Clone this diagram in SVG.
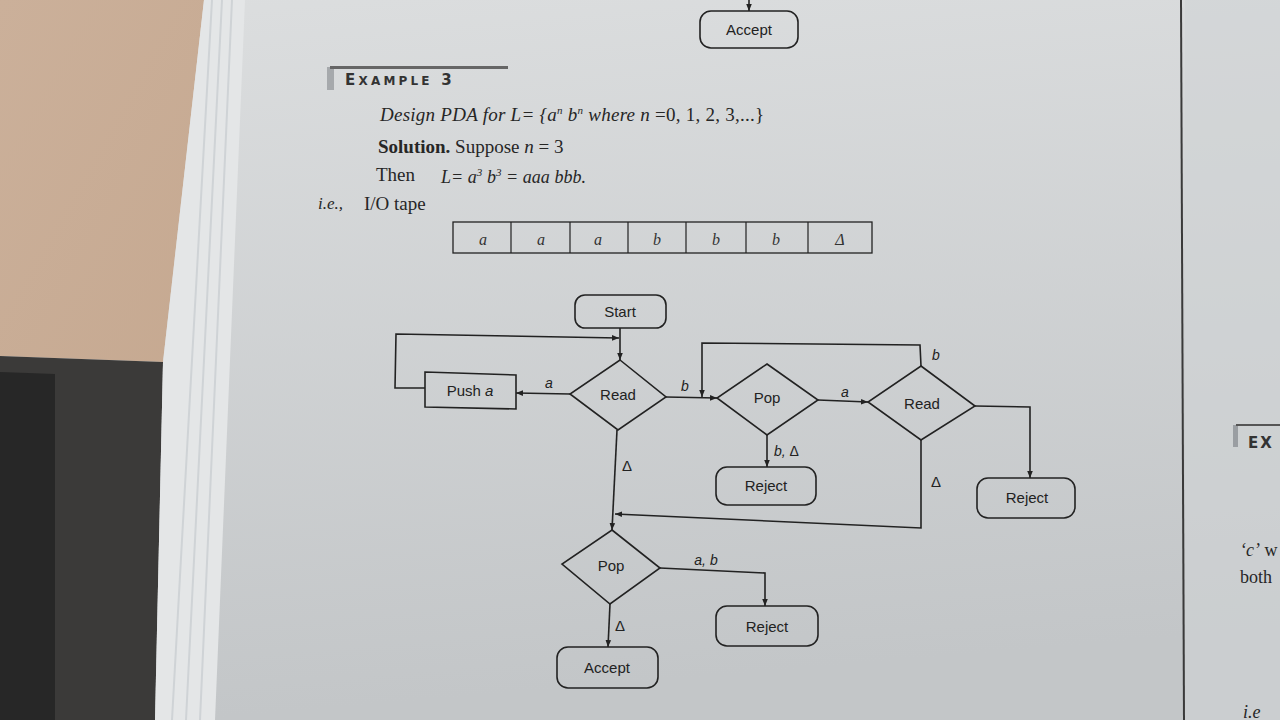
<svg xmlns="http://www.w3.org/2000/svg" width="1280" height="720" viewBox="0 0 1280 720">
<defs>
<linearGradient id="pageG" x1="0" y1="0" x2="0.15" y2="1">
<stop offset="0" stop-color="#dcdedf"/>
<stop offset="1" stop-color="#c3c6c8"/>
</linearGradient>
<linearGradient id="woodG" x1="0" y1="0" x2="1" y2="1">
<stop offset="0" stop-color="#cbb09a"/>
<stop offset="1" stop-color="#c6a991"/>
</linearGradient>
<marker id="ah" viewBox="0 0 10 10" refX="10" refY="5" markerWidth="7" markerHeight="7" orient="auto" markerUnits="userSpaceOnUse">
<path d="M0,1 L10,5 L0,9 z" fill="#222"/>
</marker>
<style>
.ln{fill:none;stroke:#222;stroke-width:1.6}
.shape{fill:none;stroke:#222;stroke-width:1.6}
.lbl{font-family:"Liberation Sans",Arial,sans-serif;font-size:15px;fill:#222;text-anchor:middle}
.el{font-family:"Liberation Sans",Arial,sans-serif;font-size:14px;fill:#222;font-style:italic}
.serif{font-family:"Liberation Serif","Times New Roman",serif;fill:#262626}
.it{font-style:italic}
.tape{font-family:"Liberation Serif",serif;font-style:italic;font-size:16px;fill:#333;text-anchor:middle}
</style>
</defs>
<!-- background scene -->
<rect x="0" y="0" width="1280" height="720" fill="url(#pageG)"/>
<polygon points="0,0 204,0 163,362 0,356" fill="url(#woodG)"/>
<polygon points="0,356 163,362 155,720 0,720" fill="#3b3a39"/>
<polygon points="0,372 55,374 55,720 0,720" fill="#272727"/>
<polygon points="204,0 245,0 215,720 155,720 163,362" fill="#e4e6e7"/>
<path d="M212,0 L172,720 M222,0 L186,720 M232,0 L200,720" stroke="#cfd3d6" stroke-width="2" fill="none"/>
<line x1="1181" y1="0" x2="1184" y2="720" stroke="#3a3a3a" stroke-width="2"/>
<rect x="1185" y="0" width="95" height="720" fill="#d0d3d5" opacity="0.6"/>
<!-- right page fragments -->
<rect x="1233" y="425" width="5" height="22" fill="#9a9ea2"/>
<line x1="1236" y1="425" x2="1280" y2="425" stroke="#555" stroke-width="2"/>
<text x="1248" y="448" font-family="DejaVu Sans,sans-serif" font-size="15" font-weight="bold" fill="#333" letter-spacing="2">EX</text>
<text x="1240" y="556" class="serif" font-size="18"><tspan class="it">‘c’</tspan> w</text>
<text x="1240" y="583" class="serif" font-size="18">both</text>
<text x="1243" y="718" class="serif it" font-size="18">i.e</text>
<!-- page header & text -->
<g id="prev-accept">
<line x1="749" y1="0" x2="749" y2="11" class="ln" marker-end="url(#ah)"/>
<rect x="700" y="11" width="98" height="37" rx="11" class="shape"/>
<text x="749" y="35" class="lbl">Accept</text>
</g>
<g id="heading">
<rect x="327" y="67" width="7" height="23" fill="#a6a9ac"/>
<line x1="330" y1="67.5" x2="508" y2="67.5" stroke="#666" stroke-width="3"/>
<text x="345" y="85" font-family="DejaVu Sans,sans-serif" font-weight="600" fill="#333" letter-spacing="3.2"><tspan font-size="15">E</tspan><tspan font-size="12">XAMPLE</tspan><tspan font-size="15"> 3</tspan></text>
</g>
<g id="statement">
<text x="380" y="121" class="serif it" font-size="19" textLength="384" lengthAdjust="spacing">Design PDA for L= {a<tspan dy="-7" font-size="11">n</tspan><tspan dy="7"> b</tspan><tspan dy="-7" font-size="11">n</tspan><tspan dy="7"> where n</tspan><tspan font-style="normal"> =0, 1, 2, 3,...}</tspan></text>
<text x="378" y="153" class="serif" font-size="19"><tspan font-weight="bold">Solution.</tspan> Suppose <tspan class="it">n</tspan> = 3</text>
<text x="376" y="181" class="serif" font-size="19">Then</text>
<text x="441" y="183" class="serif it" font-size="18" textLength="145" lengthAdjust="spacing">L= a<tspan dy="-7" font-size="11">3</tspan><tspan dy="7"> b</tspan><tspan dy="-7" font-size="11">3</tspan><tspan dy="7"> = aaa bbb.</tspan></text>
<text x="318" y="209" class="serif it" font-size="17">i.e.,</text>
<text x="364" y="210" class="serif" font-size="19">I/O tape</text>
</g>
<g id="tape">
<rect x="453" y="222" width="419" height="31" fill="none" stroke="#222" stroke-width="1.3"/>
<path d="M511,222V253 M570,222V253 M628,222V253 M686,222V253 M746,222V253 M808,222V253" stroke="#222" stroke-width="1.2"/>
<text x="483" y="245" class="tape">a</text>
<text x="541" y="245" class="tape">a</text>
<text x="598" y="245" class="tape">a</text>
<text x="657" y="245" class="tape">b</text>
<text x="716" y="245" class="tape">b</text>
<text x="776" y="245" class="tape">b</text>
<text x="840" y="245" class="tape" font-style="normal">Δ</text>
</g>
<!-- connectors -->
<g id="connectors">
<line x1="620" y1="328" x2="620" y2="360" class="ln" marker-end="url(#ah)"/>
<polyline points="425,388 395,388 396,334 619,338" class="ln" marker-end="url(#ah)"/>
<line x1="570" y1="394" x2="516" y2="393" class="ln" marker-end="url(#ah)"/>
<line x1="666" y1="397" x2="717" y2="398" class="ln" marker-end="url(#ah)"/>
<polyline points="921,366 920,345 702,343 702,397" class="ln" marker-end="url(#ah)"/>
<line x1="818" y1="400" x2="868" y2="402" class="ln" marker-end="url(#ah)"/>
<line x1="767" y1="435" x2="767" y2="467" class="ln" marker-end="url(#ah)"/>
<polyline points="975,406 1030,407 1030,478" class="ln" marker-end="url(#ah)"/>
<polyline points="921,440 921,528 615,514" class="ln" marker-end="url(#ah)"/>
<line x1="617" y1="430" x2="612" y2="530" class="ln" marker-end="url(#ah)"/>
<polyline points="660,568 765,573 765,606" class="ln" marker-end="url(#ah)"/>
<line x1="610" y1="604" x2="608" y2="647" class="ln" marker-end="url(#ah)"/>
<text x="549" y="388" class="el" text-anchor="middle">a</text>
<text x="685" y="391" class="el" text-anchor="middle">b</text>
<text x="936" y="360" class="el" text-anchor="middle">b</text>
<text x="845" y="397" class="el" text-anchor="middle">a</text>
<text x="774" y="456" class="el"><tspan>b,</tspan><tspan font-style="normal"> Δ</tspan></text>
<text x="936" y="487" class="lbl" font-size="14">Δ</text>
<text x="627" y="471" class="lbl" font-size="14">Δ</text>
<text x="706" y="565" class="el" text-anchor="middle">a, b</text>
<text x="620" y="631" class="lbl" font-size="14">Δ</text>
</g>
<!-- nodes -->
<g id="start">
<rect x="575" y="295" width="91" height="33" rx="10" class="shape"/>
<text x="620" y="317" class="lbl">Start</text>
</g>
<g id="read1">
<polygon points="620,360 666,397 618,430 570,394" class="shape"/>
<text x="618" y="400" class="lbl">Read</text>
</g>
<g id="push-a">
<polygon points="425,372 516,375 516,409 425,407" class="shape"/>
<text x="470" y="396" class="lbl">Push <tspan font-style="italic">a</tspan></text>
</g>
<g id="pop1">
<polygon points="767,364 818,400 767,435 717,398" class="shape"/>
<text x="767" y="403" class="lbl">Pop</text>
</g>
<g id="read2">
<polygon points="921,366 975,406 921,440 868,402" class="shape"/>
<text x="922" y="409" class="lbl">Read</text>
</g>
<g id="reject1">
<rect x="716" y="467" width="100" height="38" rx="11" class="shape"/>
<text x="766" y="491" class="lbl">Reject</text>
</g>
<g id="reject2">
<rect x="977" y="478" width="98" height="40" rx="11" class="shape"/>
<text x="1027" y="503" class="lbl">Reject</text>
</g>
<g id="pop2">
<polygon points="612,530 660,568 610,604 562,564" class="shape"/>
<text x="611" y="571" class="lbl">Pop</text>
</g>
<g id="reject3">
<rect x="716" y="606" width="102" height="40" rx="11" class="shape"/>
<text x="767" y="632" class="lbl">Reject</text>
</g>
<g id="accept">
<rect x="557" y="647" width="101" height="41" rx="11" class="shape"/>
<text x="607" y="673" class="lbl">Accept</text>
</g>
</svg>
